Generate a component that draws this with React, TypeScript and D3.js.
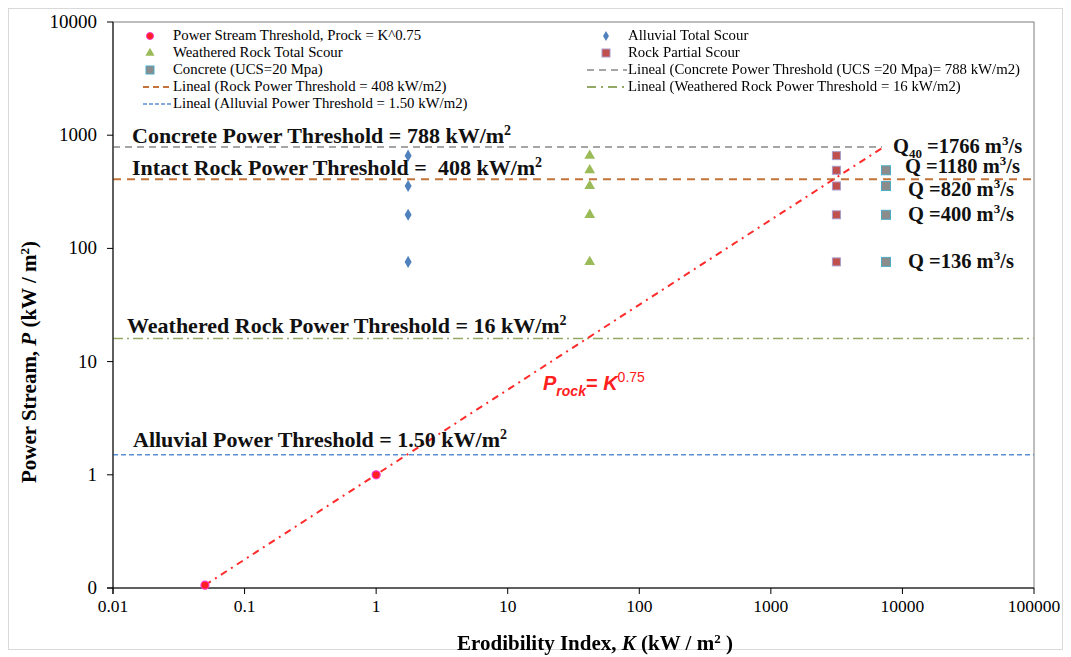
import * as d3 from "d3";

// axis ticks
const xTicks = [0.01, 0.1, 1, 10, 100, 1000, 10000, 100000];
const xTickLabels = ["0.01", "0.1", "1", "10", "100", "1000", "10000", "100000"];
const yTicks = [0.1, 1, 10, 100, 1000, 10000];
const yTickLabels = ["0", "1", "10", "100", "1000", "10000"];

// Power Stream Threshold, Prock = K^0.75
const streamK = [0.05, 1];
const streamP = [0.106, 1];
// dash-dot trend line end points
const trendK = [0.05, 7000];
const trendP = [0.106, 770];

// scour series
const alluvialK = [1.75, 1.75, 1.75, 1.75];
const alluvialP = [660, 356, 198, 76];
const weatheredK = [42, 42, 42, 42, 42];
const weatheredP = [660, 490, 356, 198, 76];
const rockK = [3150, 3150, 3150, 3150, 3150];
const rockP = [660, 490, 356, 198, 76];
const concreteK = [7500, 7500, 7500, 7500];
const concreteP = [490, 356, 198, 76];

// thresholds (kW/m2)
const thresholdNames = ["concrete", "rock", "weathered", "alluvial"];
const thresholdP = [788, 408, 16, 1.5];
const thresholdEndK = [7000, 100000, 100000, 100000];

// flow annotations
const flowLabels = ["1766", "1180", "820", "400", "136"];
const flowP = [788, 490, 356, 198, 76];

const W = 1071;
const H = 657;
const left = 113;
const right = 1034;
const top = 22;
const bottom = 588;

const serif = "'Liberation Serif', 'Times New Roman', serif";
const sans = "'Liberation Sans', Arial, sans-serif";

const lineStyles: Record<string, { stroke: string; dash: string; width: number }> = {
  concrete: { stroke: "#a5a5a5", dash: "7,5", width: 2 },
  rock: { stroke: "#c4733a", dash: "8,6", width: 2 },
  weathered: { stroke: "#94a865", dash: "10,4,2,4", width: 1.6 },
  alluvial: { stroke: "#5b8fd3", dash: "5,3", width: 1.5 },
};

export default function App() {
  const x = d3.scaleLog().domain([0.01, 100000]).range([left, right]);
  const y = d3.scaleLog().domain([0.1, 10000]).range([bottom, top]);

  const trend = d3
    .line<number>()
    .x((k) => x(k))
    .y((_, i) => y(trendP[i]));

  const diamond = d3.symbol().type(d3.symbolDiamond).size(42)();
  const triangle = d3.symbol().type(d3.symbolTriangle).size(50)();

  const flowDy = [6, 3, 10, 6, 6];
  const flowDx = [7, 19, 22, 22, 22];

  return (
    <svg width={W} height={H} style={{ position: "fixed", left: 0, top: 0, display: "block" }}>
      <rect x={8.5} y={8.5} width={1054} height={641} fill="#fff" stroke="#d9d9d9" />

      {/* plot frame */}
      <rect x={left} y={top} width={right - left} height={bottom - top} fill="none" stroke="#7f7f7f" />

      {/* threshold lines */}
      {thresholdNames.map((n, i) => (
        <line
          key={n}
          x1={x(0.01)}
          x2={x(thresholdEndK[i])}
          y1={y(thresholdP[i])}
          y2={y(thresholdP[i])}
          stroke={lineStyles[n].stroke}
          strokeWidth={lineStyles[n].width}
          strokeDasharray={lineStyles[n].dash}
        />
      ))}

      {/* trend line */}
      <path d={trend(trendK) || ""} fill="none" stroke="#ff2a2a" strokeWidth={2} strokeDasharray="7,5,2,5" />

      {/* axes */}
      <line x1={left} x2={left} y1={top} y2={bottom + 6} stroke="#000" />
      <line x1={left - 6} x2={right} y1={bottom} y2={bottom} stroke="#000" />
      {yTicks.map((t, i) => (
        <g key={"y" + t}>
          <line x1={left - 6} x2={left} y1={y(t)} y2={y(t)} stroke="#000" />
          <text x={left - 16} y={y(t) + 6} textAnchor="end" fontFamily={serif} fontSize={19}>
            {yTickLabels[i]}
          </text>
        </g>
      ))}
      {xTicks.map((t, i) => (
        <g key={"x" + t}>
          <line x1={x(t)} x2={x(t)} y1={bottom} y2={bottom + 6} stroke="#000" />
          <text x={x(t)} y={bottom + 24} textAnchor="middle" fontFamily={serif} fontSize={17.5}>
            {xTickLabels[i]}
          </text>
        </g>
      ))}

      {/* markers */}
      {alluvialK.map((k, i) => (
        <path key={"a" + i} d={diamond} transform={`translate(${x(k)},${y(alluvialP[i])})`} fill="#4f81bd" />
      ))}
      {weatheredK.map((k, i) => (
        <path key={"w" + i} d={triangle} transform={`translate(${x(k)},${y(weatheredP[i])})`} fill="#9bbb59" />
      ))}
      {rockK.map((k, i) => (
        <rect
          key={"r" + i}
          x={x(k) - 4}
          y={y(rockP[i]) - 4}
          width={8}
          height={8}
          fill="#c0504d"
          stroke="#a99bc9"
        />
      ))}
      {concreteK.map((k, i) => (
        <rect
          key={"c" + i}
          x={x(k) - 4.5}
          y={y(concreteP[i]) - 4.5}
          width={9}
          height={9}
          fill="#8c8c8c"
          stroke="#4bacc6"
        />
      ))}
      {streamK.map((k, i) => (
        <circle key={"s" + i} cx={x(k)} cy={y(streamP[i])} r={4} fill="#ff2020" stroke="#ff33cc" strokeWidth={1.2} />
      ))}

      {/* threshold labels */}
      <g fontFamily={serif} fontWeight="bold" fontSize={22} fill="#111">
        <text x={132} y={y(thresholdP[0]) - 4}>
          Concrete Power Threshold = 788 kW/m<tspan fontSize={14} dy={-8}>2</tspan>
        </text>
        <text x={132} y={y(thresholdP[1]) - 4}>
          Intact Rock Power Threshold = {"\u00a0"}408 kW/m<tspan fontSize={14} dy={-8}>2</tspan>
        </text>
        <text x={127} y={y(thresholdP[2]) - 5}>
          Weathered Rock Power Threshold = 16 kW/m<tspan fontSize={14} dy={-8}>2</tspan>
        </text>
        <text x={133} y={y(thresholdP[3]) - 8}>
          Alluvial Power Threshold = 1.50 kW/m<tspan fontSize={14} dy={-8}>2</tspan>
        </text>
      </g>

      {/* flow labels */}
      <g fontFamily={serif} fontWeight="bold" fontSize={20.5} fill="#111">
        {flowLabels.map((q, i) => (
          <text key={q} x={x(concreteK[0]) + flowDx[i]} y={y(flowP[i]) + flowDy[i]}>
            Q
            {i === 0 ? (
              <tspan fontSize={13} dy={5}>
                40
              </tspan>
            ) : null}
            <tspan dy={i === 0 ? -5 : 0}>{" =" + q + " m"}</tspan>
            <tspan fontSize={13} dy={-8}>
              3
            </tspan>
            <tspan dy={8}>/s</tspan>
          </text>
        ))}
      </g>

      {/* equation */}
      <text x={543} y={390} fontFamily={sans} fontWeight="bold" fontStyle="italic" fontSize={20} fill="#ff2020">
        P
        <tspan fontSize={14} dy={6}>
          rock
        </tspan>
        <tspan dy={-6} fontStyle="normal">
          =
        </tspan>
        <tspan> K</tspan>
        <tspan fontSize={14} fontStyle="normal" fontWeight="normal" dy={-8}>
          0.75
        </tspan>
      </text>

      {/* legend */}
      <g fontFamily={serif} fontSize={14.8} fill="#000">
        <circle cx={150} cy={36} r={3.5} fill="#ff2020" stroke="#ff33cc" />
        <text x={173} y={40}>Power Stream Threshold, Prock = K^0.75</text>
        <path d={d3.symbol().type(d3.symbolTriangle).size(36)()} transform="translate(150,53)" fill="#9bbb59" />
        <text x={173} y={57}>Weathered Rock Total Scour</text>
        <rect x={146} y={66} width={8} height={8} fill="#8c8c8c" stroke="#4bacc6" />
        <text x={173} y={74}>Concrete (UCS=20 Mpa)</text>
        <line x1={143} x2={171} y1={87} y2={87} stroke="#c4733a" strokeWidth={2} strokeDasharray="6,4" />
        <text x={173} y={91}>Lineal (Rock Power  Threshold = 408 kW/m2)</text>
        <line x1={143} x2={171} y1={104} y2={104} stroke="#5b8fd3" strokeWidth={1.5} strokeDasharray="4,2" />
        <text x={173} y={108}>Lineal (Alluvial  Power Threshold = 1.50 kW/m2)</text>

        <path d={d3.symbol().type(d3.symbolDiamond).size(30)()} transform="translate(606,36)" fill="#4f81bd" />
        <text x={628} y={40}>Alluvial Total Scour</text>
        <rect x={602} y={49} width={8} height={8} fill="#c0504d" stroke="#a99bc9" />
        <text x={628} y={57}>Rock Partial Scour</text>
        <line x1={587} x2={627} y1={70} y2={70} stroke="#a5a5a5" strokeWidth={2} strokeDasharray="7,5" />
        <text x={628} y={74}>Lineal (Concrete Power  Threshold (UCS =20 Mpa)= 788 kW/m2)</text>
        <line x1={587} x2={627} y1={87} y2={87} stroke="#94a865" strokeWidth={2} strokeDasharray="9,5,2,5" />
        <text x={628} y={91}>Lineal (Weathered Rock Power  Threshold = 16 kW/m2)</text>
      </g>

      {/* axis titles */}
      <text x={595} y={650} textAnchor="middle" fontFamily={serif} fontWeight="bold" fontSize={21}>
        Erodibility Index, <tspan fontStyle="italic">K</tspan> (kW / m<tspan fontSize={13} dy={-7}>2</tspan>
        <tspan dy={7}> )</tspan>
      </text>
      <text
        transform="translate(36,362) rotate(-90)"
        textAnchor="middle"
        fontFamily={serif}
        fontWeight="bold"
        fontSize={21}
      >
        Power Stream, <tspan fontStyle="italic">P</tspan>  (kW / m<tspan fontSize={13} dy={-7}>2</tspan>
        <tspan dy={7}>)</tspan>
      </text>
    </svg>
  );
}
